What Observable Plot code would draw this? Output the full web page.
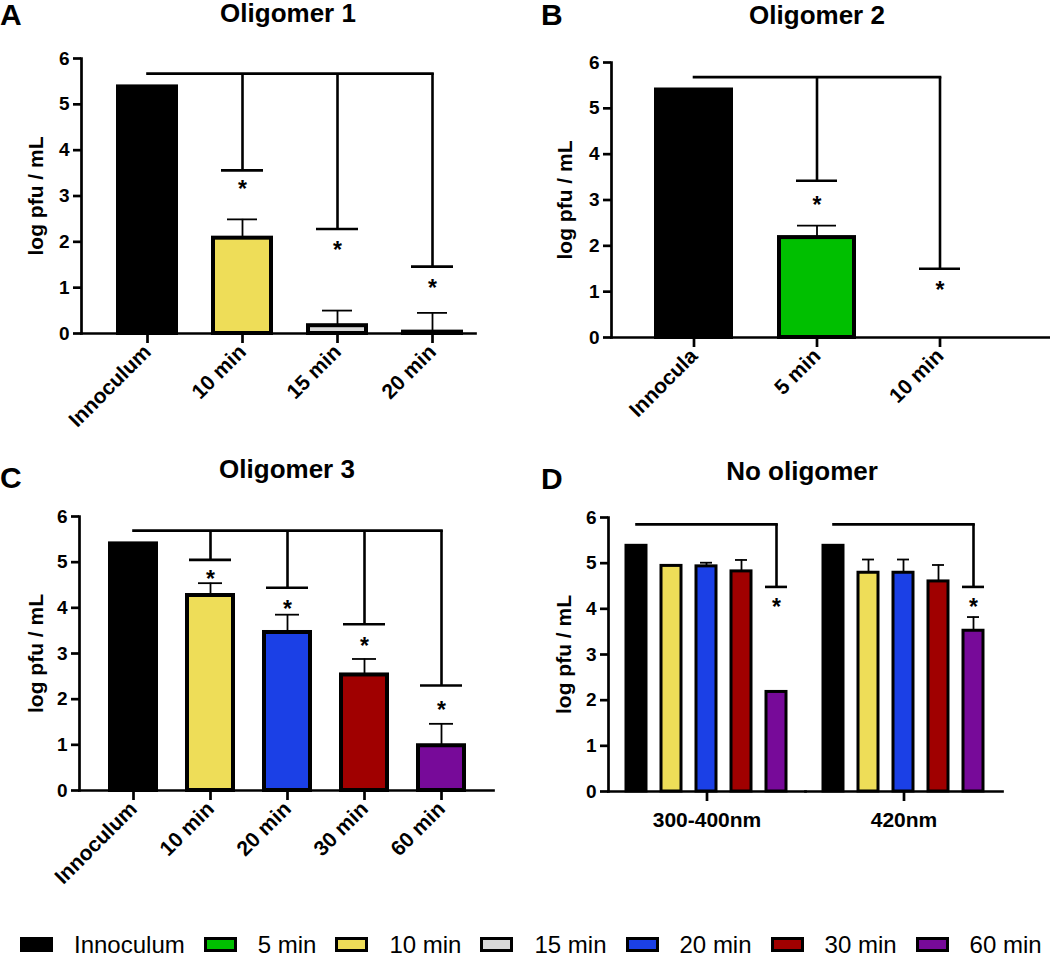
<!DOCTYPE html>
<html><head><meta charset="utf-8">
<script src="https://cdn.jsdelivr.net/npm/d3@7"></script>
<script src="https://cdn.jsdelivr.net/npm/@observablehq/plot@0.6"></script>
<style>
body{margin:0;background:#fff;font-family:"Liberation Sans",Arial,sans-serif;color:#000;}
#fig{position:relative;width:1050px;height:960px;background:#fff;}
.panel{position:absolute;}
.title{position:absolute;font-weight:bold;font-size:26px;line-height:26px;transform:translateX(-50%);white-space:nowrap;}
.letter{position:absolute;font-weight:bold;font-size:30px;line-height:30px;}
#legend{position:absolute;left:20px;top:931px;height:27px;display:flex;align-items:center;font-size:24px;line-height:27px;white-space:nowrap;}
.sw{flex:0 0 auto;display:inline-block;width:33px;height:15px;box-sizing:border-box;border:3px solid #000;margin-right:21px;}
.lt{flex:0 0 auto;margin-right:19px;}
.lt:last-child{margin-right:0;}
g[aria-label="y-axis label"]{font-size:21px;}
</style>
</head><body>
<div id="fig"></div>
<script>
// ---------- data ----------
const legendNames = ["Innoculum","5 min","10 min","15 min","20 min","30 min","60 min"];
const legendColors = ["#000000","#00BF00","#EEDD58","#D8D8D8","#1B40E6","#A00000","#770A99"];
const yTicks = [0,1,2,3,4,5,6];
const yLabel = "log pfu / mL";

// Panel A – Oligomer 1
const catsA = ["Innoculum","10 min","15 min","20 min"];
const seriesA = ["Innoculum","10 min","15 min","20 min"];
const meansA = [5.38, 2.08, 0.17, 0.03];
const sdsA = [0, 0.41, 0.33, 0.42];
const bracketTopA = 5.67;
const dropsA = [null, 3.56, 2.28, 1.46];
const starsA = [null, 3.27, 1.94, 1.12];

// Panel B – Oligomer 2
const catsB = ["Innocula","5 min","10 min"];
const seriesB = ["Innoculum","5 min","10 min"];
const meansB = [5.40, 2.18, 0];
const sdsB = [0, 0.26, 0];
const bracketTopB = 5.68;
const dropsB = [null, 3.42, 1.50];
const starsB = [null, 3.00, 1.15];

// Panel C – Oligomer 3
const catsC = ["Innoculum","10 min","20 min","30 min","60 min"];
const seriesC = ["Innoculum","10 min","20 min","30 min","60 min"];
const meansC = [5.40, 4.27, 3.46, 2.53, 0.98];
const sdsC = [0, 0.27, 0.39, 0.35, 0.48];
const bracketTopC = 5.69;
const dropsC = [null, 5.05, 4.44, 3.64, 2.30];
const starsC = [null, 4.76, 4.09, 3.28, 1.88];

// Panel D – No oligomer
const groupsD = ["300-400nm","420nm"];
const seriesD = ["Innoculum","10 min","20 min","30 min","60 min"];
const meansD300 = [5.38, 4.94, 4.93, 4.82, 2.18];
const sdsD300 = [0, 0, 0.08, 0.25, 0];
const meansD420 = [5.38, 4.79, 4.79, 4.60, 3.52];
const sdsD420 = [0, 0.29, 0.29, 0.36, 0.30];
const bracketTopD = 5.85;
const dropsD = [null, null, null, null, 4.48];
const starsD = [null, null, null, null, 4.15];

// ---------- helpers ----------
const fig = document.getElementById("fig");
const svgStyle = {fontFamily: '"Liberation Sans", Arial, sans-serif', fontWeight: "bold", fontSize: "19px", background: "transparent", color: "#000", overflow: "visible"};

function place(el, left, top) {
  const d = document.createElement("div");
  d.className = "panel"; d.style.left = left + "px"; d.style.top = top + "px";
  d.appendChild(el); fig.appendChild(d);
}
function addText(cls, txt, left, top) {
  const d = document.createElement("div");
  d.className = cls; d.textContent = txt; d.style.left = left + "px"; d.style.top = top + "px";
  fig.appendChild(d);
}

function simplePanel(o) {
  const rows = o.cats.map((c, i) => ({cat: c, series: o.series[i], mean: o.means[i], sd: o.sds[i], drop: o.drops[i], star: o.stars[i]}));
  const errRows = rows.filter(d => d.sd > 0);
  const sigRows = rows.filter(d => d.drop != null);
  const span = [{x1: o.cats[0], x2: o.cats[o.cats.length - 1], y: o.top}];
  return Plot.plot({
    width: o.width, height: o.height,
    marginLeft: o.ml, marginRight: o.mr, marginTop: o.mt, marginBottom: o.mb,
    style: svgStyle,
    x: {domain: o.cats, range: o.xRange, paddingInner: o.pad, paddingOuter: 0},
    y: {domain: [0, 6]},
    color: {domain: legendNames, range: legendColors},
    marks: [
      Plot.barY(rows, {x: "cat", y: "mean", fill: "series", stroke: "#000", strokeWidth: o.barStroke}),
      Plot.ruleX(errRows, {x: "cat", y1: "mean", y2: d => d.mean + d.sd, stroke: "#000", strokeWidth: 1.8}),
      Plot.tickY(errRows, {x: "cat", y: d => d.mean + d.sd, insetLeft: o.errInset, insetRight: o.errInset, stroke: "#000", strokeWidth: 1.8}),
      Plot.link(span, {x1: "x1", x2: "x2", y1: "y", y2: "y", stroke: "#000", strokeWidth: 2.6, strokeLinecap: "square"}),
      Plot.ruleX(sigRows, {x: "cat", y1: "drop", y2: () => o.top, stroke: "#000", strokeWidth: 2.6}),
      Plot.tickY(sigRows, {x: "cat", y: "drop", insetLeft: o.capInset, insetRight: o.capInset, stroke: "#000", strokeWidth: 2.6}),
      Plot.text(sigRows, {x: "cat", y: "star", text: () => "*", fontSize: 23, fontWeight: "bold", dy: 6}),
      Plot.axisY({ticks: yTicks, tickFormat: "d", tickSize: 8, tickPadding: 4, fontSize: 19, strokeWidth: 2.7, label: yLabel, labelAnchor: "center", labelOffset: o.labelOffset, labelArrow: "none"}),
      Plot.axisX({tickRotate: -45, tickSize: 10, tickPadding: 5, fontSize: 21, strokeWidth: 2.7, label: null}),
      Plot.frame({anchor: "left", stroke: "#000", strokeWidth: 2.7}),
      Plot.frame({anchor: "bottom", stroke: "#000", strokeWidth: 2.7})
    ]
  });
}

// Panel A
place(simplePanel({cats: catsA, series: seriesA, means: meansA, sds: sdsA, drops: dropsA, stars: starsA, top: bracketTopA,
  width: 500, height: 440, ml: 81, mr: 25, mt: 58, mb: 107, xRange: [117, 461], pad: 0.39,
  barStroke: 4, errInset: 14, capInset: 8, labelOffset: 53}), 0, 0);

// Panel B
place(simplePanel({cats: catsB, series: seriesB, means: meansB, sds: sdsB, drops: dropsB, stars: starsB, top: bracketTopB,
  width: 550, height: 440, ml: 111, mr: 0, mt: 62, mb: 103, xRange: [155, 479], pad: 0.387,
  barStroke: 4, errInset: 18, capInset: 17, labelOffset: 54}), 500, 0);

// Panel C
place(simplePanel({cats: catsC, series: seriesC, means: meansC, sds: sdsC, drops: dropsC, stars: starsC, top: bracketTopC,
  width: 500, height: 430, ml: 79, mr: 7, mt: 66, mb: 90, xRange: [110, 464], pad: 0.403,
  barStroke: 4, errInset: 11, capInset: 2, labelOffset: 51}), 0, 450);

// Panel D (faceted by wavelength)
{
  const meansD = [meansD300, meansD420];
  const sdsD = [sdsD300, sdsD420];
  const rows = [];
  groupsD.forEach((g, gi) => seriesD.forEach((s, i) => rows.push({group: g, cat: s, series: s, mean: meansD[gi][i], sd: sdsD[gi][i], drop: dropsD[i], star: starsD[i]})));
  const errRows = rows.filter(d => d.sd > 0);
  const sigRows = rows.filter(d => d.drop != null);
  const spans = groupsD.map(g => ({group: g, x1: seriesD[0], x2: seriesD[seriesD.length - 1], y: bracketTopD}));
  const svg = Plot.plot({
    width: 550, height: 430, marginLeft: 107, marginRight: 48, marginTop: 67, marginBottom: 89,
    style: svgStyle,
    fx: {domain: groupsD, paddingInner: 0, paddingOuter: 0},
    x: {domain: seriesD, paddingInner: 0.42, paddingOuter: 0.5, axis: null},
    y: {domain: [0, 6]},
    color: {domain: legendNames, range: legendColors},
    marks: [
      Plot.barY(rows, {fx: "group", x: "cat", y: "mean", fill: "series", stroke: "#000", strokeWidth: 3}),
      Plot.ruleX(errRows, {fx: "group", x: "cat", y1: "mean", y2: d => d.mean + d.sd, stroke: "#000", strokeWidth: 1.8}),
      Plot.tickY(errRows, {fx: "group", x: "cat", y: d => d.mean + d.sd, insetLeft: 4, insetRight: 4, stroke: "#000", strokeWidth: 1.8}),
      Plot.link(spans, {fx: "group", x1: "x1", x2: "x2", y1: "y", y2: "y", stroke: "#000", strokeWidth: 2.6, strokeLinecap: "square"}),
      Plot.ruleX(sigRows, {fx: "group", x: "cat", y1: "drop", y2: () => bracketTopD, stroke: "#000", strokeWidth: 2.6}),
      Plot.tickY(sigRows, {fx: "group", x: "cat", y: "drop", insetLeft: -1, insetRight: -1, stroke: "#000", strokeWidth: 2.6}),
      Plot.text(sigRows, {fx: "group", x: "cat", y: "star", text: () => "*", fontSize: 23, fontWeight: "bold", dy: 6}),
      Plot.axisY({ticks: yTicks, tickFormat: "d", tickSize: 8, tickPadding: 4, fontSize: 19, strokeWidth: 2.7, label: yLabel, labelAnchor: "center", labelOffset: 52, labelArrow: "none"}),
      Plot.axisFx({anchor: "bottom", tickSize: 10, tickPadding: 11, fontSize: 21, strokeWidth: 2.7, label: null}),
      Plot.frame({anchor: "left", facetAnchor: "left", stroke: "#000", strokeWidth: 2.7}),
      Plot.frame({anchor: "bottom", stroke: "#000", strokeWidth: 2.7})
    ]
  });
  place(svg, 500, 450);
}

// titles & panel letters
addText("letter", "A", 0, 0);
addText("letter", "B", 541, 0);
addText("letter", "C", 0, 463);
addText("letter", "D", 541, 464);
addText("title", "Oligomer 1", 288, 0);
addText("title", "Oligomer 2", 817, 2);
addText("title", "Oligomer 3", 287, 456);
addText("title", "No oligomer", 802, 458);

// legend
{
  const lg = document.createElement("div");
  lg.id = "legend";
  legendNames.forEach((n, i) => {
    const s = document.createElement("span");
    s.className = "sw"; s.style.background = legendColors[i];
    const t = document.createElement("span");
    t.className = "lt"; t.textContent = n;
    lg.appendChild(s); lg.appendChild(t);
  });
  fig.appendChild(lg);
}
</script>
</body></html>
